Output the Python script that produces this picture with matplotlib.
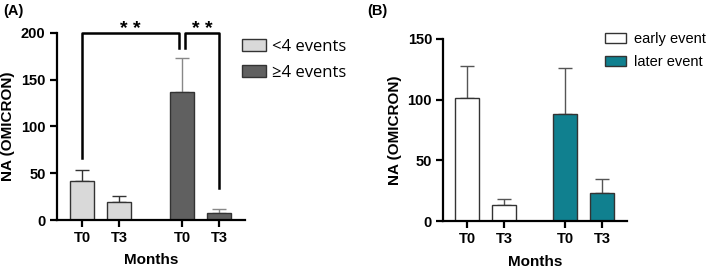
import matplotlib
matplotlib.use("Agg")
from matplotlib import pyplot as plt
from matplotlib.patches import Patch

plt.rcParams['font.family'] = ['Liberation Sans', 'DejaVu Sans']

# panel A
a_labels = ["T0", "T3", "T0", "T3"]
a_pos = [0, 1, 2.7, 3.7]
a_values = [42, 19, 137, 8]
a_errors = [12, 7, 36, 4]
a_groups = ["<4 events", "\u22654 events"]

# panel B
b_labels = ["T0", "T3", "T0", "T3"]
b_pos = [0, 1, 2.65, 3.65]
b_values = [101, 13, 88, 23]
b_errors = [27, 5, 38, 12]
b_groups = ["early event", "later event"]

light_gray = "#d9d9d9"
dark_gray = "#606060"
teal = "#10808f"


def style_axes(ax, labels, pos):
    for side in ["top", "right"]:
        ax.spines[side].set_visible(False)
    for side in ["left", "bottom"]:
        ax.spines[side].set_linewidth(1.6)
    ax.tick_params(width=1.6, length=5, labelsize=10.5, pad=3)
    ax.set_xticks(pos)
    ax.set_xticklabels(labels, fontweight="bold")
    for t in ax.get_yticklabels():
        t.set_fontweight("bold")
    ax.set_xlabel("Months", fontsize=11, fontweight="bold", labelpad=6)
    ax.set_ylabel("NA (OMICRON)", fontsize=11, fontweight="bold", labelpad=4)


fig = plt.figure(figsize=(7.09, 2.7), dpi=100)

ax1 = fig.add_axes([0.080, 0.185, 0.266, 0.693])
colors_a = [light_gray, light_gray, dark_gray, dark_gray]
ax1.bar(a_pos, a_values, width=0.65, color=colors_a, edgecolor="#333333", linewidth=1.0, zorder=2)
for x, v, e, c in zip(a_pos, a_values, a_errors, colors_a):
    ax1.errorbar(x, v, yerr=[[0], [e]], fmt="none", ecolor="#333333" if c == light_gray else "#888888",
                 elinewidth=1.0, capsize=5, capthick=1.0, zorder=1)
ax1.set_xlim(-0.68, 4.4)
ax1.set_ylim(0, 200)
ax1.set_yticks([0, 50, 100, 150, 200])
style_axes(ax1, a_labels, a_pos)

# significance brackets
ax1.plot([a_pos[0], a_pos[0], a_pos[2] - 0.08, a_pos[2] - 0.08], [66, 200, 200, 184],
         color="black", lw=1.8, clip_on=False)
ax1.plot([a_pos[2] + 0.08, a_pos[2] + 0.08, a_pos[3], a_pos[3]], [184, 200, 200, 34],
         color="black", lw=1.8, clip_on=False)
ax1.text((a_pos[0] + a_pos[2]) / 2 - 0.05, 195, "* *", ha="center", va="bottom",
         fontsize=14, fontweight="bold", clip_on=False)
ax1.text((a_pos[2] + a_pos[3]) / 2 + 0.05, 195, "* *", ha="center", va="bottom",
         fontsize=14, fontweight="bold", clip_on=False)

handles_a = [Patch(facecolor=light_gray, edgecolor="#333333", linewidth=1.0),
             Patch(facecolor=dark_gray, edgecolor="#333333", linewidth=1.0)]
ax1.legend(handles_a, a_groups, loc="upper left", bbox_to_anchor=(0.342, 0.855),
           bbox_transform=fig.transFigure, frameon=False,
           handlelength=1.4, handleheight=0.7, handletextpad=0.35, labelspacing=0.6,
           borderaxespad=0, borderpad=0, prop={"family": "Open Sans", "size": 12})

fig.text(0.005, 0.985, "(A)", fontsize=10.5, fontweight="bold", va="top")

ax2 = fig.add_axes([0.625, 0.181, 0.259, 0.675])
colors_b = ["white", "white", teal, teal]
ax2.bar(b_pos, b_values, width=0.65, color=colors_b, edgecolor="#333333", linewidth=1.0, zorder=2)
for x, v, e in zip(b_pos, b_values, b_errors):
    ax2.errorbar(x, v, yerr=[[0], [e]], fmt="none", ecolor="#555555",
                 elinewidth=1.0, capsize=5, capthick=1.0, zorder=1)
ax2.set_xlim(-0.65, 4.32)
ax2.set_ylim(0, 150)
ax2.set_yticks([0, 50, 100, 150])
style_axes(ax2, b_labels, b_pos)

handles_b = [Patch(facecolor="white", edgecolor="#333333", linewidth=1.0),
             Patch(facecolor=teal, edgecolor="#333333", linewidth=1.0)]
ax2.legend(handles_b, b_groups, loc="upper left", bbox_to_anchor=(0.853, 0.882),
           bbox_transform=fig.transFigure, frameon=False,
           handlelength=1.45, handleheight=0.65, handletextpad=0.55, labelspacing=0.65,
           borderaxespad=0, borderpad=0, prop={"family": "Liberation Sans", "size": 10.5})

fig.text(0.518, 0.985, "(B)", fontsize=10.5, fontweight="bold", va="top")

fig.savefig("out.png", dpi=100)
